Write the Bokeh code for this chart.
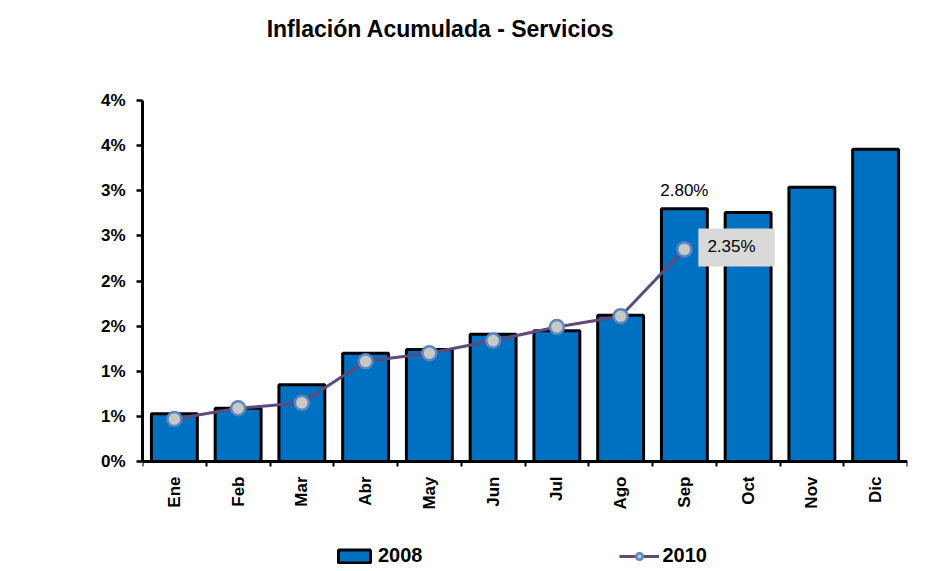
import math
from bokeh.plotting import figure
from bokeh.models import Range1d, FixedTicker, Label, Legend, LegendItem, ColumnDataSource
from bokeh.embed import file_html
from bokeh.resources import INLINE

# ---- data ----
months = ["Ene", "Feb", "Mar", "Abr", "May", "Jun", "Jul", "Ago", "Sep", "Oct", "Nov", "Dic"]
inf_2008 = [0.53, 0.59, 0.85, 1.20, 1.24, 1.41, 1.45, 1.62, 2.80, 2.76, 3.04, 3.46]
inf_2010 = [0.47, 0.59, 0.65, 1.11, 1.20, 1.34, 1.49, 1.61, 2.35]
y_ticks = [0.0, 0.5, 1.0, 1.5, 2.0, 2.5, 3.0, 3.5, 4.0]
y_tick_labels = ["0%", "1%", "1%", "2%", "2%", "3%", "3%", "4%", "4%"]
series_names = ["2008", "2010"]
title_text = "Inflación Acumulada - Servicios"
label_2008_sep = "2.80%"
label_2010_sep = "2.35%"

FONT = "Liberation Sans"

x_pos = list(range(1, len(months) + 1))
x_bounds = [i + 0.5 for i in range(0, len(months) + 1)]

# frame spans the whole height; the y axis line is bounded to 0..4
H = 568
PX_PER_UNIT = 90.25
y_lo = -(H - 461) / PX_PER_UNIT
y_hi = 4 + 100 / PX_PER_UNIT

p = figure(width=936, height=H, output_backend="svg", toolbar_location=None,
           x_range=Range1d(0.5, 12.5), y_range=Range1d(y_lo, y_hi),
           min_border_left=142, min_border_right=29, min_border_top=0, min_border_bottom=0)
p.outline_line_color = None
p.xgrid.visible = False
p.ygrid.visible = False
p.background_fill_color = "white"
p.border_fill_color = "white"

src_bar = ColumnDataSource(dict(x=x_pos, top=inf_2008))
bars = p.vbar(x="x", top="top", bottom=0, width=0.72, source=src_bar,
              fill_color="#0070C0", line_color="black", line_width=3)

src_line = ColumnDataSource(dict(x=x_pos[:len(inf_2010)], y=inf_2010))
line = p.line("x", "y", source=src_line, line_color="#604A7B", line_width=3)
pts = p.scatter("x", "y", source=src_line, size=14, fill_color="#C8C8C8",
                line_color="#5B87C0", line_width=2.5)

# x axis, drawn at y = 0
xa = p.xaxis[0]
xa.fixed_location = 0
xa.ticker = FixedTicker(ticks=x_pos, minor_ticks=x_bounds)
xa.major_label_overrides = {x: m for x, m in zip(x_pos, months)}
xa.major_tick_out = 0
xa.major_tick_in = 0
xa.minor_tick_out = 5
xa.minor_tick_in = 0
xa.minor_tick_line_color = "black"
xa.minor_tick_line_width = 2
xa.axis_line_width = 3
xa.axis_line_color = "black"
xa.major_label_orientation = math.pi / 2
xa.major_label_standoff = 10
xa.major_label_text_font = FONT
xa.major_label_text_font_size = "17px"
xa.major_label_text_font_style = "bold"
xa.major_label_text_color = "black"

# y axis
ya = p.yaxis[0]
ya.bounds = (0, 4)
ya.ticker = FixedTicker(ticks=y_ticks, minor_ticks=[])
ya.major_label_overrides = {t: l for t, l in zip(y_ticks, y_tick_labels)}
ya.major_tick_out = 6
ya.major_tick_in = 0
ya.major_tick_line_width = 2.5
ya.major_tick_line_color = "black"
ya.axis_line_width = 3
ya.axis_line_color = "black"
ya.major_label_standoff = 11
ya.major_label_text_font = FONT
ya.major_label_text_font_size = "17px"
ya.major_label_text_font_style = "bold"
ya.major_label_text_color = "black"

# title
p.add_layout(Label(x=298, y=H - 28, x_units="screen", y_units="screen", text=title_text,
                   text_align="center", text_baseline="middle", text_font=FONT,
                   text_font_size="23px", text_font_style="bold", text_color="black"))

# data labels
p.add_layout(Label(x=x_pos[8], y=inf_2008[8], text=label_2008_sep, text_align="center",
                   text_baseline="bottom", y_offset=9, text_font=FONT,
                   text_font_size="17px", text_color="black"))
p.add_layout(Label(x=x_pos[8], y=inf_2010[8], text=label_2010_sep, text_align="left",
                   text_baseline="middle", x_offset=14, y_offset=2, text_font=FONT,
                   text_font_size="17px", text_color="black",
                   background_fill_color="#D9D9D9", padding=(9, 19, 9, 10)))

legend = Legend(items=[LegendItem(label=series_names[0], renderers=[bars]),
                       LegendItem(label=series_names[1], renderers=[line, pts])],
                orientation="horizontal", location=(192, 1),
                glyph_width=40, glyph_height=16, label_standoff=4, spacing=196,
                padding=0, margin=0, border_line_color=None, background_fill_alpha=0,
                label_text_font=FONT, label_text_font_size="20px",
                label_text_font_style="bold", label_text_color="black")
p.add_layout(legend, "center")

open("out.html", "w").write(file_html(p, INLINE))
